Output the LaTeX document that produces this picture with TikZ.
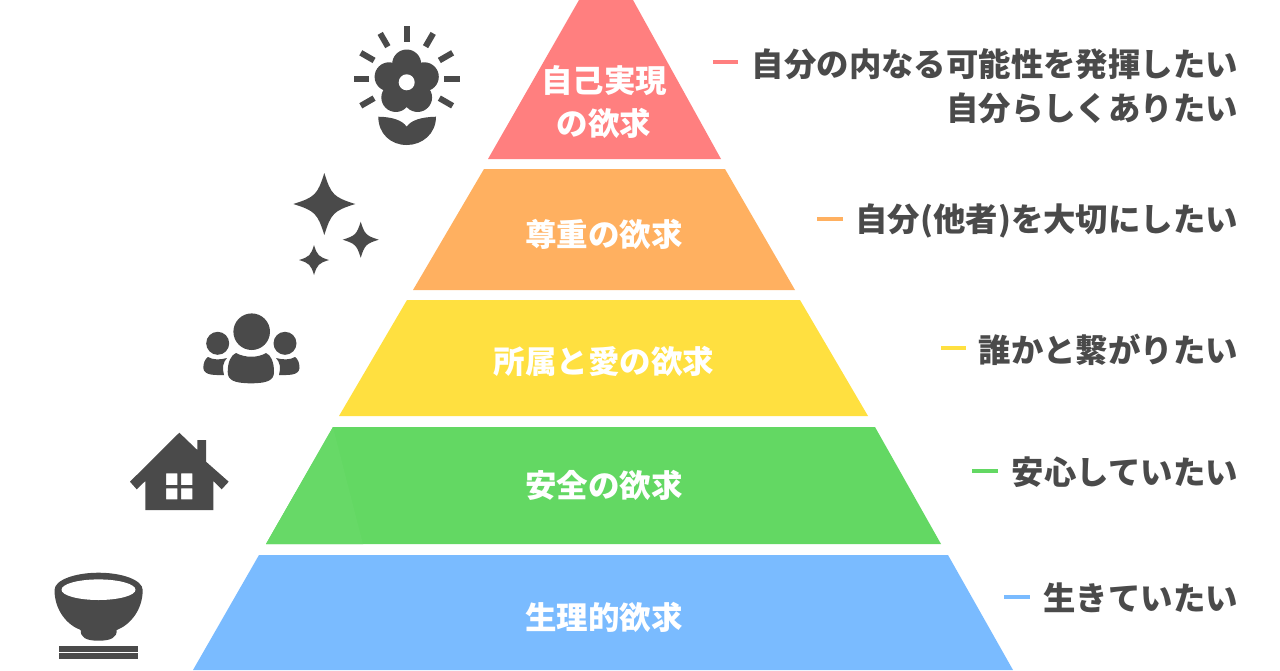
\documentclass[tikz,border=0pt]{standalone}
\usepackage{fontspec}
\setmainfont{Noto Sans CJK JP}
\usetikzlibrary{calc}
\definecolor{icon}{HTML}{4A4A4A}
\definecolor{cred}{HTML}{FF7F7F}
\definecolor{corange}{HTML}{FFB060}
\definecolor{cyellow}{HTML}{FFE040}
\definecolor{cgreen}{HTML}{63D863}
\definecolor{cgreenb}{HTML}{67D967}
\definecolor{cblue}{HTML}{7ABBFF}
\tikzset{
  tier/.style={font=\fontsize{31.5}{43}\selectfont\bfseries, text=white, align=center, inner sep=0pt},
  wish/.style={font=\fontsize{32.4}{44}\selectfont\bfseries, text=icon, align=right, anchor=east, inner sep=0pt},
  tick/.style={line width=3.6pt},
  ic/.style={fill=icon, draw=none},
  ray/.style={draw=icon, line width=6pt}
}
\newcommand{\spark}[3]{\fill[icon] (#1-#3,#2) .. controls (#1-.3*#3,#2-.22*#3) and (#1-.22*#3,#2-.3*#3) .. (#1,#2-#3)
  .. controls (#1+.22*#3,#2-.3*#3) and (#1+.3*#3,#2-.22*#3) .. (#1+#3,#2)
  .. controls (#1+.3*#3,#2+.22*#3) and (#1+.22*#3,#2+.3*#3) .. (#1,#2+#3)
  .. controls (#1-.22*#3,#2+.3*#3) and (#1-.3*#3,#2+.22*#3) .. cycle;}
\begin{document}
\begin{tikzpicture}[x=1pt,y=-1pt]
\useasboundingbox (0,0) rectangle (1280,670);
\fill[white] (0,0) rectangle (1280,670);
% pyramid
\fill[cred] (579,0) -- (633,0) -- (721,159) -- (488,159) -- cycle;
\fill[corange] (484,169) -- (725,169) -- (795,290) -- (413,290) -- cycle;
\fill[cyellow] (407,300) -- (800,300) -- (868,416) -- (339,416) -- cycle;
\fill[cgreen] (333,427) -- (875,427) -- (941,544) -- (266,544) -- cycle;
\fill[cgreenb] (333,427) -- (363,544) -- (266,544) -- cycle;
\fill[cblue] (259,555) -- (948,555) -- (1013,670) -- (193,670) -- cycle;
% tier labels
\node[tier] (t1) at (604,102) {自己実現\\の欲求};
\node[tier] (t2) at (604,234) {尊重の欲求};
\node[tier] (t3) at (604,361) {所属と愛の欲求};
\node[tier] (t4) at (604,485) {安全の欲求};
\node[tier] (t5) at (604,617) {生理的欲求};
% wishes
\node[wish] (w1) at (1238,86) {自分の内なる可能性を発揮したい\\自分らしくありたい};
\node[wish] (w2) at (1238,221) {自分(他者)を大切にしたい};
\node[wish] (w3) at (1238,350) {誰かと繋がりたい};
\node[wish] (w4) at (1238,472) {安心していたい};
\node[wish] (w5) at (1238,598) {生きていたい};
% ticks
\draw[tick,cred] (713,62) -- (738,62);
\draw[tick,corange] (817,219) -- (843,219);
\draw[tick,cyellow] (941,348) -- (966,348);
\draw[tick,cgreen] (972,471) -- (998,471);
\draw[tick,cblue] (1004,597) -- (1030,597);
% flower
\foreach \a in {90,60,120,30,150,0,180,-30,-150}
  \draw[ray] ({406.7+37.7*cos(\a)},{79.3-37.7*sin(\a)}) -- ({406.7+53*cos(\a)},{79.3-53*sin(\a)});
\foreach \a in {90,18,162,-54,-126}
  \fill[icon] ({406.7+18.5*cos(\a)},{82.5-18.5*sin(\a)}) circle (14.5);
\fill[icon] (406.7,82.5) circle (19);
\fill[white] (406.7,82.3) circle (8);
\fill[icon] (378.3,116.7) .. controls (392,117) and (402,120) .. (406.7,126.7)
  .. controls (411,120) and (422,117) .. (436,116.7)
  .. controls (436,134) and (422,145) .. (406.7,145)
  .. controls (391,145) and (378.3,134) .. cycle;
% sparkles
\spark{324.3}{204}{31}
\spark{360.7}{239.7}{18}
\spark{314}{260}{15}
% people
\fill[icon] (251.7,331.7) circle (18.3);
\fill[icon] (217.7,343.3) circle (11.5);
\fill[icon] (285,343.3) circle (11.5);
\fill[icon] (236,353) .. controls (245,358) and (258,358) .. (266,353)
  .. controls (271,355) and (274,362) .. (274,372)
  .. controls (274,380) and (268,383.3) .. (251,383.3)
  .. controls (234,383.3) and (227.7,380) .. (227.7,372)
  .. controls (227.7,362) and (231,355) .. cycle;
\fill[icon] (208,357) .. controls (213,360) and (220,360) .. (227,358)
  .. controls (223,362) and (222,368) .. (224,375)
  .. controls (216,375) and (204,376) .. (203.3,368)
  .. controls (203.3,363) and (205,359) .. cycle;
\fill[icon] (295,357) .. controls (290,360) and (283,360) .. (276,358)
  .. controls (280,362) and (281,368) .. (279,375)
  .. controls (287,375) and (299,376) .. (299.5,368)
  .. controls (299.5,363) and (298,359) .. cycle;
% house
\fill[icon,even odd rule] (179.3,432.7) -- (197.3,450) -- (197.3,440) -- (206,440) -- (206,461.7) -- (228.7,481.7) -- (221.7,489.3) -- (213.3,481) -- (213.3,510) -- (145.3,510) -- (145.3,481) -- (136.7,489.3) -- (130,481.7) -- cycle
  (166,473.3) rectangle (177.3,485) (181,473.3) rectangle (192.3,485)
  (166,488.3) rectangle (177.3,499.3) (181,488.3) rectangle (192.3,499.3);
% bowl
\fill[icon] (54.5,590) .. controls (54.5,580) and (75,572.7) .. (98.5,572.7)
  .. controls (122,572.7) and (142.7,580) .. (142.7,590)
  .. controls (142.7,610) and (130,625) .. (116.7,630)
  .. controls (117,637) and (112,640.7) .. (98.5,640.7)
  .. controls (85,640.7) and (80.5,637) .. (80.7,630)
  .. controls (67,625) and (54.5,610) .. cycle;
\fill[white] (98.5,589.7) ellipse (37 and 10.3);
\fill[icon] (59.3,645.7) rectangle (137.7,651.7);
\fill[icon] (59.3,653) rectangle (137.7,659);
\end{tikzpicture}
\end{document}
